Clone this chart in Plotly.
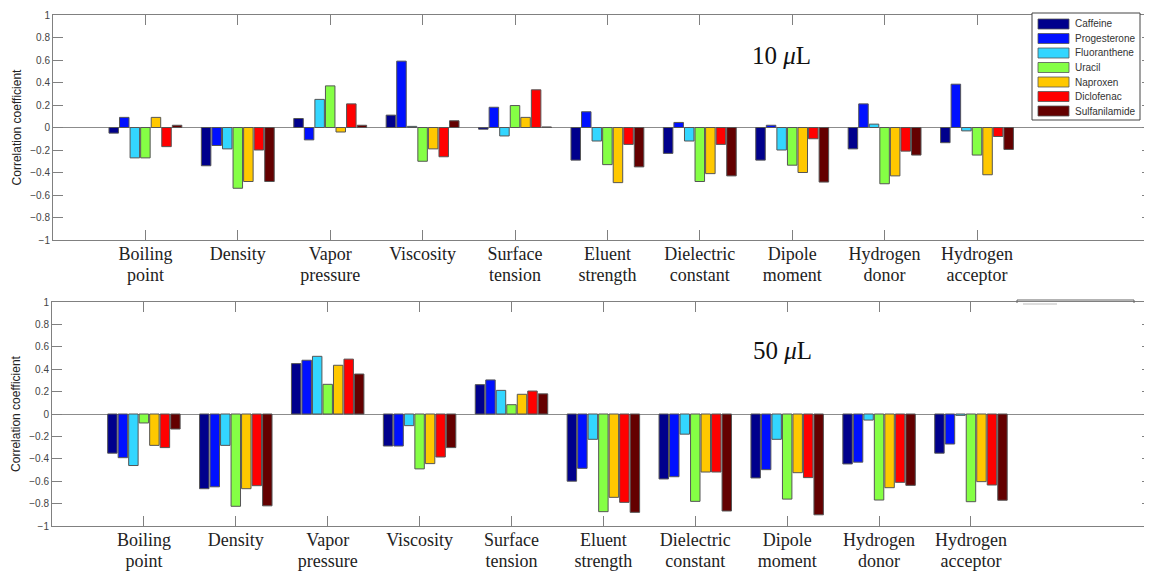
import plotly.graph_objects as go

# ---------------- data ----------------
cat_line1 = ["Boiling", "Density", "Vapor", "Viscosity", "Surface", "Eluent",
             "Dielectric", "Dipole", "Hydrogen", "Hydrogen"]
cat_line2 = ["point", "", "pressure", "", "tension", "strength",
             "constant", "moment", "donor", "acceptor"]
positions = [1, 2, 3, 4, 5, 6, 7, 8, 9, 10]
compounds = ["Caffeine", "Progesterone", "Fluoranthene", "Uracil",
             "Naproxen", "Diclofenac", "Sulfanilamide"]
colors = ["#00008C", "#0010FF", "#33D6FF", "#85FF45", "#FFC800", "#FF0000", "#640000"]

# 10 uL panel
caffeine_10 = [-0.05, -0.34, 0.08, 0.11, -0.015, -0.29, -0.23, -0.29, -0.19, -0.135]
progesterone_10 = [0.09, -0.16, -0.11, 0.59, 0.18, 0.14, 0.045, 0.02, 0.21, 0.385]
fluoranthene_10 = [-0.27, -0.19, 0.25, 0.01, -0.075, -0.12, -0.12, -0.20, 0.03, -0.03]
uracil_10 = [-0.27, -0.54, 0.37, -0.30, 0.195, -0.33, -0.48, -0.335, -0.50, -0.245]
naproxen_10 = [0.09, -0.48, -0.04, -0.19, 0.09, -0.49, -0.41, -0.40, -0.43, -0.42]
diclofenac_10 = [-0.17, -0.20, 0.21, -0.26, 0.335, -0.15, -0.15, -0.10, -0.21, -0.08]
sulfanilamide_10 = [0.02, -0.48, 0.02, 0.06, 0.005, -0.35, -0.43, -0.485, -0.245, -0.195]

# 50 uL panel
caffeine_50 = [-0.35, -0.667, 0.45, -0.286, 0.262, -0.60, -0.58, -0.571, -0.446, -0.35]
progesterone_50 = [-0.39, -0.65, 0.48, -0.286, 0.304, -0.485, -0.56, -0.497, -0.43, -0.268]
fluoranthene_50 = [-0.46, -0.28, 0.515, -0.104, 0.211, -0.226, -0.18, -0.226, -0.054, -0.012]
uracil_50 = [-0.08, -0.824, 0.265, -0.49, 0.083, -0.872, -0.78, -0.76, -0.768, -0.783]
naproxen_50 = [-0.28, -0.667, 0.435, -0.443, 0.176, -0.744, -0.518, -0.524, -0.658, -0.604]
diclofenac_50 = [-0.30, -0.64, 0.49, -0.384, 0.205, -0.789, -0.518, -0.568, -0.61, -0.634]
sulfanilamide_50 = [-0.134, -0.82, 0.357, -0.30, 0.18, -0.878, -0.866, -0.90, -0.637, -0.77]

series_10 = [caffeine_10, progesterone_10, fluoranthene_10, uracil_10,
             naproxen_10, diclofenac_10, sulfanilamide_10]
series_50 = [caffeine_50, progesterone_50, fluoranthene_50, uracil_50,
             naproxen_50, diclofenac_50, sulfanilamide_50]

panel_labels = ["10 <i>μ</i>L", "50 <i>μ</i>L"]

# ---------------- figure ----------------
OFF = 8                      # page body margin of the html page
W, H = 1152 - OFF, 571 - OFF


def px(x):
    return (x - OFF) / W


def py(y):
    return 1 - (y - OFF) / H


fig = go.Figure()

for name, col, v10, v50 in zip(compounds, colors, series_10, series_50):
    fig.add_trace(go.Bar(x=positions, y=v10, name=name, marker_color=col,
                         marker_line=dict(color="#555555", width=1),
                         xaxis="x", yaxis="y", showlegend=False))
    fig.add_trace(go.Bar(x=positions, y=v50, name=name, marker_color=col,
                         marker_line=dict(color="#555555", width=1),
                         xaxis="x2", yaxis="y2", showlegend=False))

# invisible helpers so the second-line label axes are drawn
fig.add_trace(go.Scatter(x=positions, y=[None] * len(positions), xaxis="x3", yaxis="y",
                         showlegend=False, hoverinfo="skip", mode="markers"))
fig.add_trace(go.Scatter(x=positions, y=[None] * len(positions), xaxis="x4", yaxis="y2",
                         showlegend=False, hoverinfo="skip", mode="markers"))

axis_col = "#808080"
cat_font = dict(family="Liberation Serif", size=18, color="#222222")
xcommon = dict(tickvals=positions, ticktext=cat_line1, ticks="inside", ticklen=10,
               tickcolor=axis_col, showline=True, linecolor=axis_col, linewidth=1,
               mirror="ticks", showgrid=False, zeroline=False, automargin=False,
               tickfont=cat_font, ticklabelstandoff=-3)
xline2 = dict(tickvals=positions, ticktext=cat_line2, ticks="", showline=False,
              showgrid=False, zeroline=False, automargin=False, side="bottom",
              tickfont=cat_font, ticklabelstandoff=22)
ycommon = dict(range=[-1, 1], dtick=0.2, tick0=-1, ticks="inside", ticklen=10,
               tickcolor=axis_col, showline=True, linecolor=axis_col, linewidth=1,
               mirror="ticks", showgrid=False, zeroline=True, zerolinecolor="#8c8c8c",
               zerolinewidth=1, automargin=False,
               tickfont=dict(family="Liberation Sans", size=10, color="#444444"),
               title=dict(text="Correlation coefficient", standoff=6,
                          font=dict(family="Liberation Sans", size=12, color="#222222")))

r_top = [0, 11.894]
r_bot = [0, 11.97]
fig.update_layout(
    width=W, height=H,
    margin=dict(l=0, r=0, t=0, b=0, autoexpand=False),
    paper_bgcolor="white", plot_bgcolor="white",
    barmode="group", bargap=0.2, bargroupgap=0.1,
    xaxis=dict(domain=[px(53), 1.0], range=r_top, anchor="y", **xcommon),
    yaxis=dict(domain=[py(240), py(15)], anchor="x", **ycommon),
    xaxis2=dict(domain=[px(52), 1.0], range=r_bot, anchor="y2", **xcommon),
    yaxis2=dict(domain=[py(526), py(302)], anchor="x2", **ycommon),
    xaxis3=dict(overlaying="x", range=r_top, anchor="y", **xline2),
    xaxis4=dict(overlaying="x2", range=r_bot, anchor="y2", **xline2),
)

# panel labels
annotations = [
    dict(text=panel_labels[0], x=px(781), y=py(55), xref="paper", yref="paper",
         xanchor="center", yanchor="middle", showarrow=False,
         font=dict(family="Liberation Serif", size=25, color="#111111")),
    dict(text=panel_labels[1], x=px(783), y=py(350), xref="paper", yref="paper",
         xanchor="center", yanchor="middle", showarrow=False,
         font=dict(family="Liberation Serif", size=25, color="#111111")),
]

shapes = []
# legend box (top panel)
lx0, lx1, ly0, ly1 = 1032, 1140, 13, 120
shapes.append(dict(type="rect", xref="paper", yref="paper", layer="above",
                   x0=px(lx0), x1=px(lx1), y0=py(ly1), y1=py(ly0),
                   fillcolor="white", line=dict(color="#444444", width=1)))
for i, (name, col) in enumerate(zip(compounds, colors)):
    cy = 24 + i * 14.5
    shapes.append(dict(type="rect", xref="paper", yref="paper", layer="above",
                       x0=px(1038), x1=px(1069), y0=py(cy + 5), y1=py(cy - 5),
                       fillcolor=col, line=dict(color="#555555", width=0.8)))
    annotations.append(dict(text=name, x=px(1073), y=py(cy), xref="paper", yref="paper",
                            xanchor="left", yanchor="middle", showarrow=False,
                            font=dict(family="Liberation Sans", size=10, color="#333333")))

# remnant box edge on bottom panel
shapes.append(dict(type="path", xref="paper", yref="paper", layer="above",
                   path=f"M {px(1017)},{py(303)} L {px(1017)},{py(300)} L {px(1134)},{py(300)} L {px(1134)},{py(303)}",
                   line=dict(color="#666666", width=1)))
shapes.append(dict(type="line", xref="paper", yref="paper", layer="above",
                   x0=px(1023), x1=px(1057), y0=py(304), y1=py(304),
                   line=dict(color="#dddddd", width=2)))

fig.update_layout(annotations=annotations, shapes=shapes)

fig.write_html("out.html")
